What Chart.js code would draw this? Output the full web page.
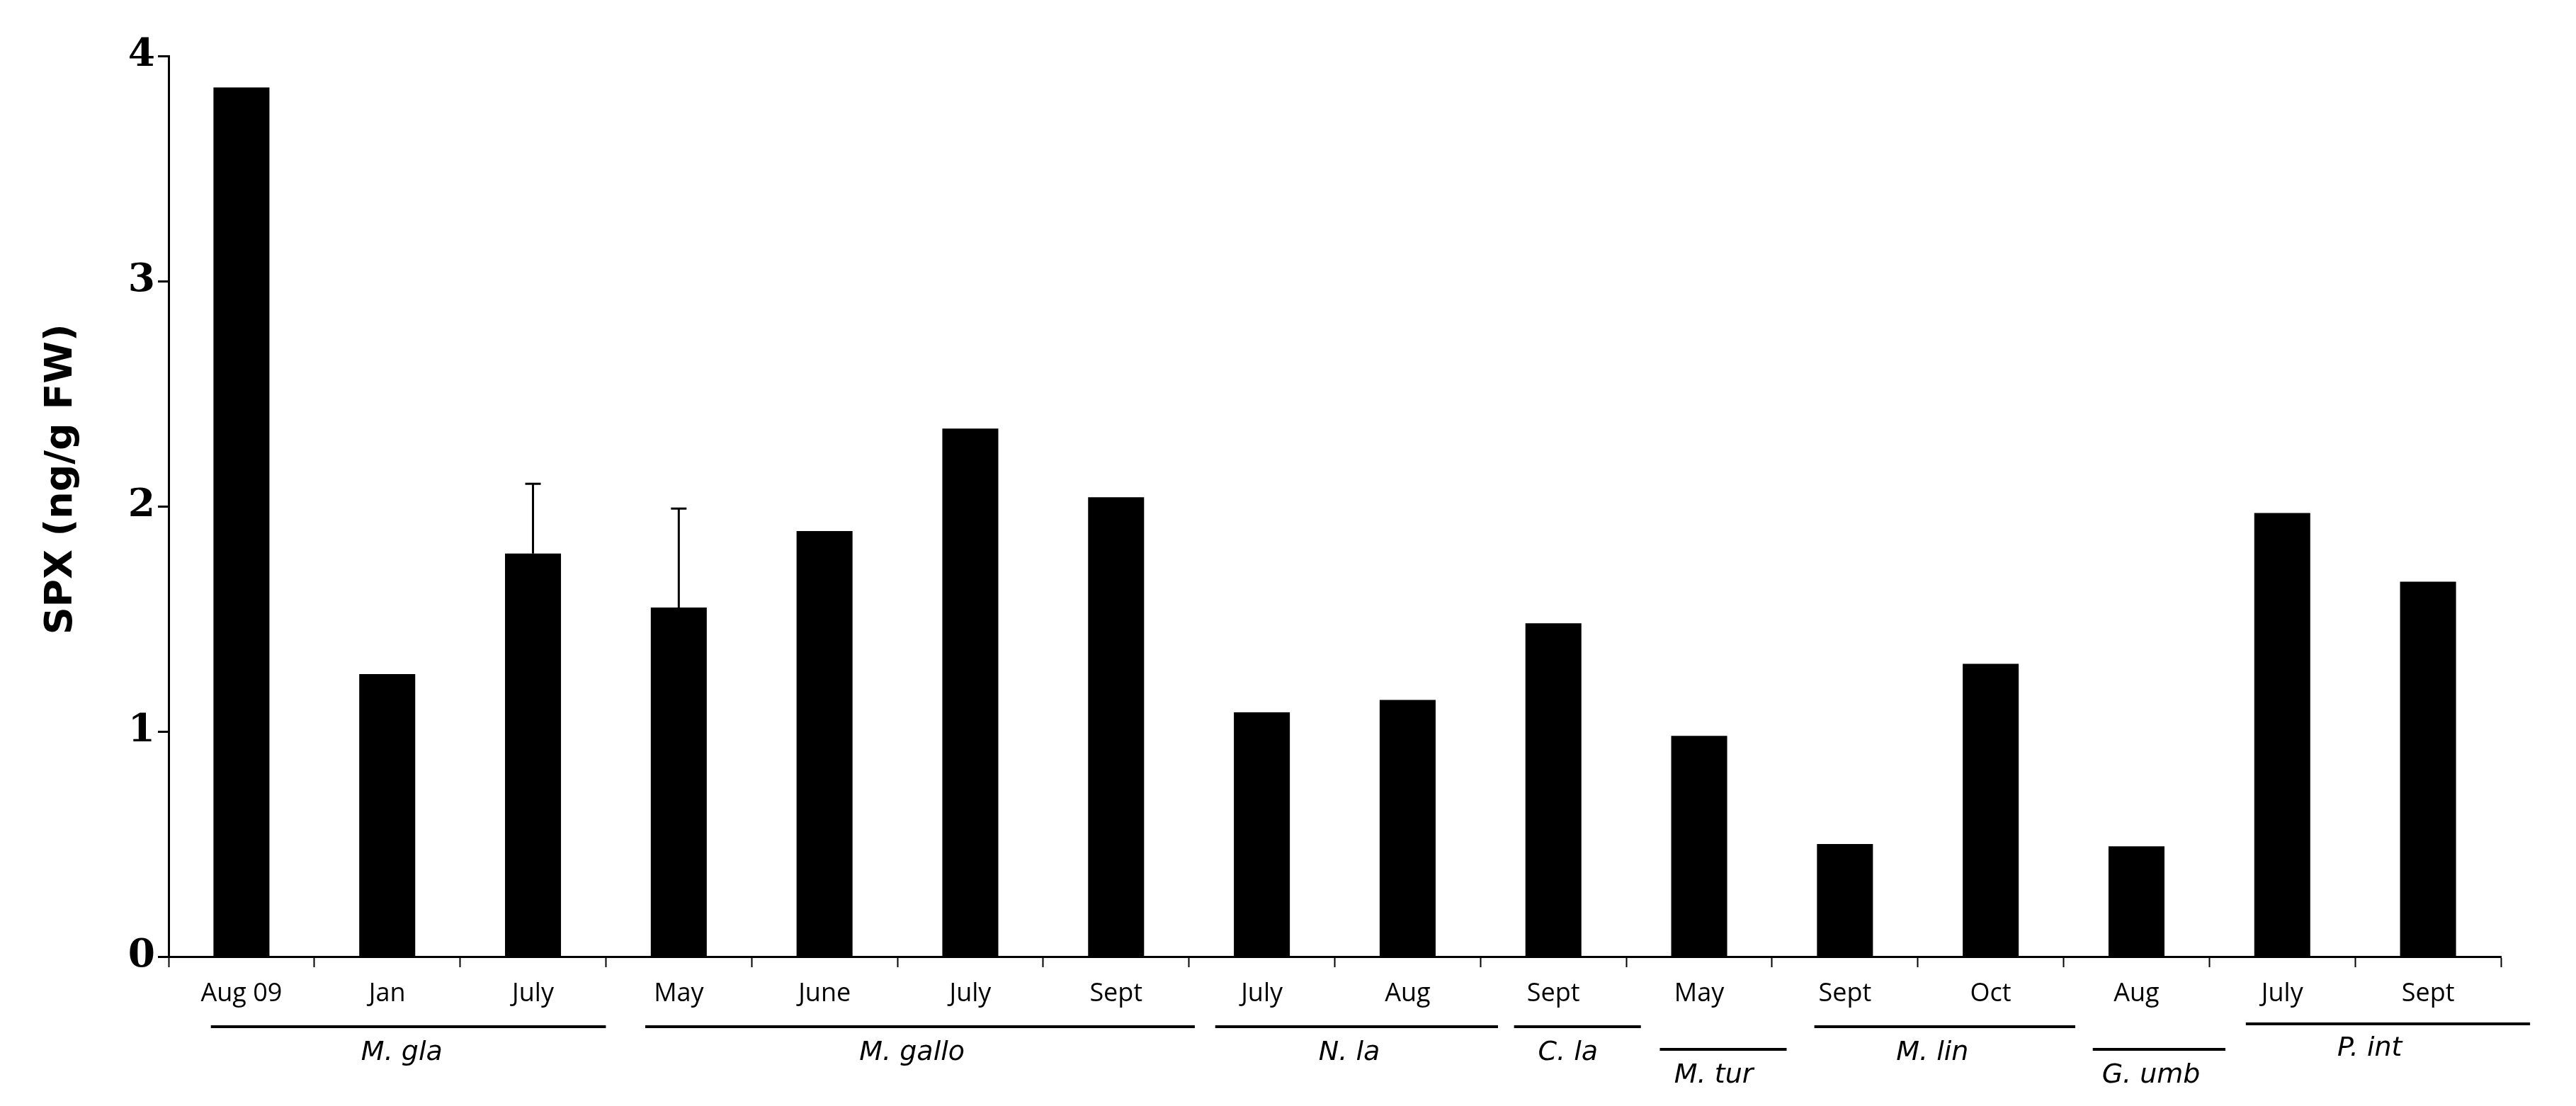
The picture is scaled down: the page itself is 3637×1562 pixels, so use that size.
<!DOCTYPE html>
<html>
<head>
<meta charset="utf-8">
<script src="https://cdn.jsdelivr.net/npm/chart.js@4/dist/chart.umd.min.js"></script>
<style>
    html, body { margin: 0; padding: 0; background: #ffffff; }
    #grafico { display: block; }
</style>
</head>
<body>
<canvas id="grafico" width="3637" height="1562"></canvas>
<script>
// Dados do grafico
const meses = ['Aug 09', 'Jan', 'July', 'May', 'June', 'July', 'Sept', 'July', 'Aug', 'Sept', 'May', 'Sept', 'Oct', 'Aug', 'July', 'Sept'];
const spx = [3.86, 1.255, 1.79, 1.55, 1.89, 2.345, 2.04, 1.085, 1.14, 1.48, 0.98, 0.50, 1.30, 0.49, 1.97, 1.665];
const spxErro = [0, 0, 0.31, 0.44, 0, 0, 0, 0, 0, 0, 0, 0, 0, 0, 0, 0];
const yTicks = [0, 1, 2, 3, 4];
const tituloY = 'SPX (ng/g FW)';

// Especies (grupos de barras)
const especies = ['M. gla', 'M. gallo', 'N. la', 'C. la', 'M. tur', 'M. lin', 'G. umb', 'P. int'];
const especieInicio = [0, 3, 7, 9, 10, 11, 13, 14];
const especieFim = [2, 6, 8, 9, 10, 12, 13, 15];

// linhas das especies: inicio/fim em unidades de categoria e nivel (0 = alto, 1 = baixo, 2 = acima)
const linhaEsq = [-0.21, 2.77, 6.68, 8.73, 9.73, 10.79, 12.70, 13.75];
const linhaDir = [2.50, 6.54, 8.62, 9.60, 10.60, 12.58, 13.61, 15.70];
const linhaNivel = [0, 0, 0, 0, 1, 0, 1, 2];

const barrasErro = {
    id: 'barrasErro',
    afterDatasetsDraw(chart) {
        const ctx = chart.ctx;
        const meta = chart.getDatasetMeta(0);
        const y = chart.scales.y;
        ctx.save();
        ctx.strokeStyle = '#000';
        ctx.lineWidth = 3;
        for (let i = 0; i < spx.length; i++) {
            if (!spxErro[i]) continue;
            const x = meta.data[i].x;
            const topo = y.getPixelForValue(spx[i] + spxErro[i]);
            const base = y.getPixelForValue(spx[i]);
            ctx.beginPath();
            ctx.moveTo(x, base);
            ctx.lineTo(x, topo);
            ctx.moveTo(x - 11, topo);
            ctx.lineTo(x + 11, topo);
            ctx.stroke();
        }
        ctx.restore();
    }
};

// titulo do eixo y (um pouco acima do centro, como no original)
const tituloEixo = {
    id: 'tituloEixo',
    afterDraw(chart) {
        const ctx = chart.ctx;
        const area = chart.chartArea;
        ctx.save();
        ctx.translate(87, area.top + (area.bottom - area.top) * 0.47);
        ctx.rotate(-Math.PI / 2);
        ctx.fillStyle = '#000';
        ctx.font = 'bold 54px "DejaVu Sans"';
        ctx.textAlign = 'center';
        ctx.textBaseline = 'middle';
        ctx.fillText(tituloY, 0, 0);
        ctx.restore();
    }
};

const gruposEspecie = {
    id: 'gruposEspecie',
    afterDraw(chart) {
        const ctx = chart.ctx;
        const x = chart.scales.x;
        const base = chart.chartArea.bottom;
        const linhaY = [base + 99, base + 131, base + 95];
        const textoY = [base + 136, base + 168, base + 130];
        ctx.save();
        ctx.strokeStyle = '#000';
        ctx.fillStyle = '#000';
        ctx.lineWidth = 4;
        ctx.font = 'oblique 38px "DejaVu Sans"';
        ctx.textAlign = 'center';
        ctx.textBaseline = 'middle';
        for (let i = 0; i < especies.length; i++) {
            const n = linhaNivel[i];
            const x1 = x.getPixelForValue(linhaEsq[i]);
            const x2 = x.getPixelForValue(linhaDir[i]);
            ctx.beginPath();
            ctx.moveTo(x1, linhaY[n]);
            ctx.lineTo(x2, linhaY[n]);
            ctx.stroke();
            const meio = (especieInicio[i] + especieFim[i]) / 2 + 0.1;
            ctx.fillText(especies[i], x.getPixelForValue(meio), textoY[n]);
        }
        ctx.restore();
    }
};

const dados = {
    labels: meses,
    datasets: [{
        label: 'SPX',
        data: spx,
        backgroundColor: '#000',
        borderWidth: 0,
        categoryPercentage: 1,
        barPercentage: 0.384
    }]
};

const config = {
    type: 'bar',
    data: dados,
    options: {
        responsive: false,
        animation: false,
        devicePixelRatio: 1,
        layout: { padding: { top: 79, right: 106, left: 0, bottom: 0 } },
        plugins: {
            legend: { display: false },
            tooltip: { enabled: false }
        },
        scales: {
            x: {
                afterFit(scale) { scale.height = 211; },
                border: { display: true, color: '#000', width: 3 },
                grid: { drawOnChartArea: false, tickLength: 15, tickColor: '#000', tickWidth: 2, offset: true },
                ticks: {
                    color: '#000',
                    padding: 16,
                    maxRotation: 0,
                    autoSkip: false,
                    font: { family: '"Open Sans"', size: 36 }
                }
            },
            y: {
                min: 0,
                max: 4,
                afterFit(scale) { scale.width = 238; },
                afterBuildTicks(scale) { scale.ticks = yTicks.map(v => ({ value: v })); },
                border: { display: true, color: '#000', width: 3 },
                grid: { drawOnChartArea: false, tickLength: 15, tickColor: '#000', tickWidth: 3 },
                ticks: {
                    color: '#000',
                    padding: 4,
                    font: { family: '"DejaVu Serif"', size: 55, weight: 'bold' }
                }
            }
        }
    },
    plugins: [barrasErro, gruposEspecie, tituloEixo]
};

let grafico = new Chart(document.getElementById('grafico'), config);
</script>
</body>
</html>
